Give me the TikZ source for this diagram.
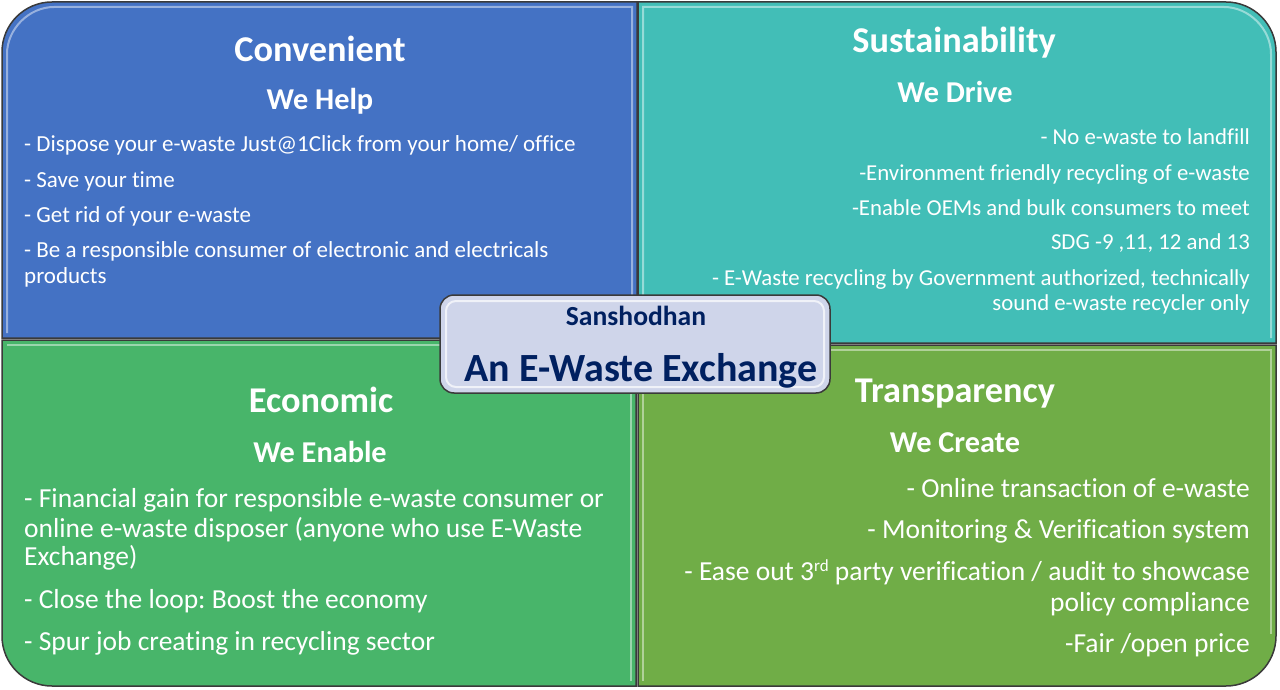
\documentclass[tikz,border=0pt]{standalone}
\usepackage{fontspec}
\setmainfont{Carlito}[Ligatures={NoCommon}]
\definecolor{qblue}{HTML}{4472C4}
\definecolor{qteal}{HTML}{42BEB7}
\definecolor{qgreenL}{HTML}{48B56A}
\definecolor{qgreenR}{HTML}{70AD47}
\definecolor{cfill}{HTML}{CFD5EA}
\definecolor{navy}{HTML}{002060}
\definecolor{edgegray}{HTML}{3A3A3A}
\frenchspacing
\begin{document}
\begin{tikzpicture}[x=1pt,y=-1pt,
  quad/.style={draw=edgegray, line width=1.5pt},
  bevel/.style={draw=white, opacity=0.45, line width=2pt},
  title/.style={text=white, inner sep=0pt, anchor=base, font=\bfseries\fontsize{36.3}{40}\selectfont},
  subtitle/.style={text=white, inner sep=0pt, anchor=base, font=\bfseries\fontsize{30.3}{34}\selectfont},
  lefttext/.style={text=white, inner sep=0pt, anchor=base west, font=\fontsize{#1}{#1}\selectfont},
  righttext/.style={text=white, inner sep=0pt, anchor=base east, font=\fontsize{#1}{#1}\selectfont}
]
\path[fill=white] (0,0) rectangle (1280,690);
\useasboundingbox (0,0) rectangle (1280,690);

% quadrants
\path[quad, fill=qblue] (2,338) -- (2,52) .. controls (2,24.4) and (24.4,2) .. (52,2) -- (637,2) -- (637,338) -- cycle;
\path[quad, fill=qteal] (638,2) -- (1226,2) .. controls (1253.6,2) and (1276,24.4) .. (1276,52) -- (1276,343) -- (638,343) -- cycle;
\path[quad, fill=qgreenL] (2,340) -- (636,340) -- (636,686) -- (52,686) .. controls (24.4,686) and (2,663.6) .. (2,636) -- cycle;
\path[quad, fill=qgreenR] (638,345) -- (1276,345) -- (1276,636) .. controls (1276,663.6) and (1253.6,686) .. (1226,686) -- (638,686) -- cycle;

% bevel highlights
\path[bevel] (7,333) -- (7,54) .. controls (7,29) and (29,7) .. (54,7) -- (632,7) -- (632,333);
\path[bevel] (643,338) -- (643,7) -- (1224,7) .. controls (1249,7) and (1271,29) .. (1271,54) -- (1271,338);
\path[bevel] (7,345) -- (631,345) -- (631,681);
\path[bevel] (643,681) -- (643,350) -- (1271,350) -- (1271,634);

% center box
\path[draw=edgegray, line width=1.5pt, fill=cfill, rounded corners=14pt] (440,295) rectangle (830,393);
\path[draw=white, opacity=0.7, line width=2pt, rounded corners=10pt] (446,301) rectangle (824,387);
\node[inner sep=0pt, anchor=base, text=navy, font=\bfseries\fontsize{27.6}{30}\selectfont] (sansh) at (636,325) {Sanshodhan};
\node[inner sep=0pt, anchor=base, text=navy, font=\bfseries\fontsize{40}{44}\selectfont] (exch) at (641,381) {An E-Waste Exchange};

% top-left
\node[title] (t1) at (320,62) {Convenient};
\node[subtitle] (s1) at (320,110) {We Help};
\node[lefttext=23] (a1) at (24,152) {- Dispose your e-waste Just@1Click from your home/ office};
\node[lefttext=23] (a2) at (24,187) {- Save your time};
\node[lefttext=23] (a3) at (24,222) {- Get rid of your e-waste};
\node[lefttext=23] (a4) at (24,257) {- Be a responsible consumer of electronic and electricals};
\node[lefttext=23] (a5) at (24,283) {products};

% top-right
\node[title] (t2) at (954,53) {Sustainability};
\node[subtitle] (s2) at (955,103) {We Drive};
\node[righttext=22.8] (b1) at (1250,145) {- No e-waste to landfill};
\node[righttext=22.8] (b2) at (1250,180) {-Environment friendly recycling of e-waste};
\node[righttext=22.8] (b3) at (1250,215) {-Enable OEMs and bulk consumers to meet};
\node[righttext=22.8] (b4) at (1250,249) {SDG -9 ,11, 12 and 13};
\node[righttext=22.8] (b5) at (1250,285) {- E-Waste recycling by Government authorized, technically};
\node[righttext=22.8] (b6) at (1250,310) {sound e-waste recycler only};

% bottom-left
\node[title] (t3) at (321,412) {Economic};
\node[subtitle] (s3) at (320,462) {We Enable};
\node[lefttext=27.5] (c1) at (24,507) {- Financial gain for responsible e-waste consumer or};
\node[lefttext=27.5] (c2) at (24,537) {online e-waste disposer (anyone who use E-Waste};
\node[lefttext=27.5] (c3) at (24,565) {Exchange)};
\node[lefttext=27.5] (c4) at (24,608) {- Close the loop: Boost the economy};
\node[lefttext=27.5] (c5) at (24,650) {- Spur job creating in recycling sector};

% bottom-right
\node[title] (t4) at (955,402) {Transparency};
\node[subtitle] (s4) at (955,452) {We Create};
\node[righttext=27.5] (d1) at (1250,497) {- Online transaction of e-waste};
\node[righttext=27.5] (d2) at (1250,538) {- Monitoring \& Verification system};
\node[righttext=27.5] (d3) at (1250,580) {- Ease out 3{\fontsize{17}{17}\selectfont\raisebox{0.5em}{rd}} party verification / audit to showcase};
\node[righttext=27.5] (d4) at (1250,611) {policy compliance};
\node[righttext=27.5] (d5) at (1250,652) {-Fair /open price};
\end{tikzpicture}
\end{document}
